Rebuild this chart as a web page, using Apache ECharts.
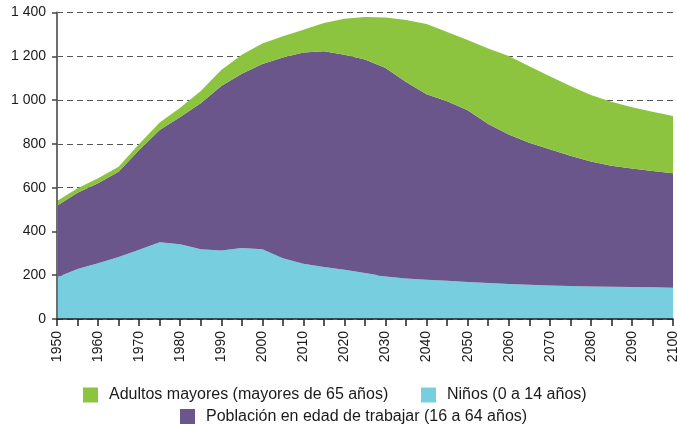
<!DOCTYPE html>
<html>
<head>
<meta charset="utf-8">
<script src="https://cdn.jsdelivr.net/npm/echarts@6/dist/echarts.min.js"></script>
<style>html,body{margin:0;padding:0;background:#fff}#c{width:677px;height:424px}</style>
</head>
<body>
<div id="c"></div>
<script>
var years = ['1950','1955','1960','1965','1970','1975','1980','1985','1990','1995','2000','2005','2010','2015','2020','2025','2030','2035','2040','2045','2050','2055','2060','2065','2070','2075','2080','2085','2090','2095','2100'];
var ninos = [191,228,255,283,316,351,342,319,313,324,319,278,252,237,225,210,194,185,179,175,169,164,160,156,153,151,149,147,146,145,143];
var trabajo = [326,349,365,390,456,512,581,666,751,796,846,917,965,986,982,975,953,898,848,820,785,727,683,649,622,595,570,553,541,531,523];
var adultos = [22,20,23,23,27,35,42,57,73,87,93,97,104,129,165,195,230,283,320,316,320,345,358,350,334,318,304,292,280,271,261];
var yTicks = [0,200,400,600,800,1000,1200,1400];
var names = ['Adultos mayores (mayores de 65 años)','Niños (0 a 14 años)','Población en edad de trabajar (16 a 64 años)'];
var colors = {adultos:'#8CC43F', ninos:'#76CEDF', trabajo:'#6A568B'};

var chart = echarts.init(document.getElementById('c'), null, {renderer:'canvas'});
var font = '"Liberation Sans", Arial, sans-serif';
function fmt(v){ if (v >= 1000) { var r = String(v % 1000); while (r.length < 3) r = '0' + r; return Math.floor(v/1000) + ' ' + r; } return String(v); }
function leg(name, left, top){
  return {data:[name], left:left, top:top, itemWidth:15, itemHeight:15, icon:'rect', orient:'horizontal', padding:0,
    textStyle:{fontFamily:font, fontSize:16, color:'#1a1a1a', padding:[0,0,0,6]}, selectedMode:false};
}
chart.setOption({
  animation:false,
  grid:{left:57, right:4, top:12.5, bottom:105, containLabel:false, outerBoundsMode:'none'},
  legend:[leg(names[0],83,387), leg(names[1],421,387), leg(names[2],180,408.5)],
  xAxis:{type:'category', data:years, boundaryGap:false, z:10,
    axisLine:{show:true, lineStyle:{color:'#222', width:1.5}},
    axisTick:{show:true, interval:0, length:7, lineStyle:{color:'#222', width:1.5}},
    axisLabel:{interval:1, rotate:90, margin:12, fontFamily:font, fontSize:14, color:'#1a1a1a'},
    splitLine:{show:false}},
  yAxis:[
    {type:'value', min:yTicks[0], max:yTicks[yTicks.length-1], interval:200,
      axisLine:{show:false}, axisTick:{show:false}, axisLabel:{show:false},
      splitLine:{show:true, lineStyle:{color:'#555', type:[6,4], width:1}}},
    {type:'value', position:'left', min:yTicks[0], max:yTicks[yTicks.length-1], interval:200, z:10,
      axisLine:{show:true, lineStyle:{color:'#6e6e6e', width:2}},
      axisTick:{show:true, length:5, lineStyle:{color:'#444', width:1.5}},
      axisLabel:{margin:11, padding:[5,0,0,0], fontFamily:font, fontSize:14, color:'#1a1a1a', formatter:fmt},
      splitLine:{show:false}}
  ],
  series:[
    {name:names[1], type:'line', stack:'t', data:ninos, symbol:'none', lineStyle:{width:0}, areaStyle:{color:colors.ninos, opacity:1}, itemStyle:{color:colors.ninos}},
    {name:names[2], type:'line', stack:'t', data:trabajo, symbol:'none', lineStyle:{width:0}, areaStyle:{color:colors.trabajo, opacity:1}, itemStyle:{color:colors.trabajo}},
    {name:names[0], type:'line', stack:'t', data:adultos, symbol:'none', lineStyle:{width:0}, areaStyle:{color:colors.adultos, opacity:1}, itemStyle:{color:colors.adultos}}
  ]
});
</script>
</body>
</html>
